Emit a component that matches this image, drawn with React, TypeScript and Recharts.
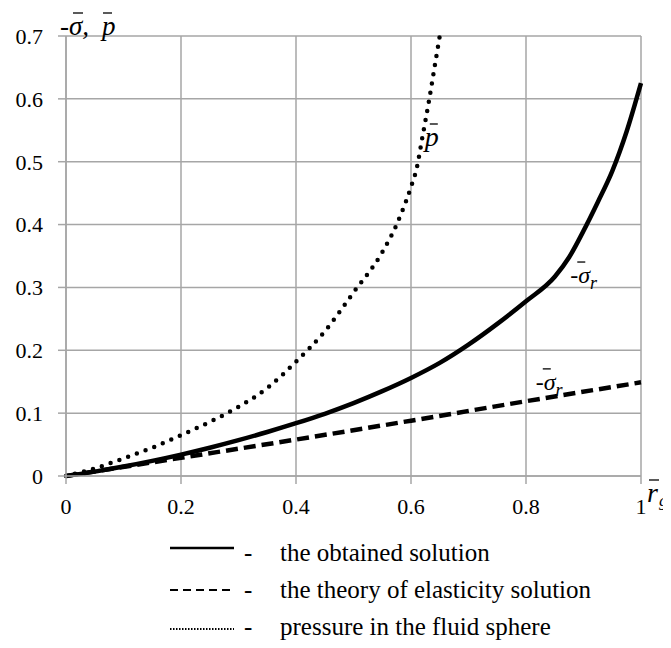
import React from "react"
import { LineChart, Line, XAxis, YAxis, CartesianGrid, ReferenceDot } from "recharts"

const SERIF = "'Liberation Serif', Tinos, 'Times New Roman', Times, 'DejaVu Serif', serif"
const GRID = "#a6a6a6"

const xTicks = [0, 0.2, 0.4, 0.6, 0.8, 1]
const yTicks = [0, 0.1, 0.2, 0.3, 0.4, 0.5, 0.6, 0.7]

// the obtained solution (solid)
const obtainedX = [0, 0.05, 0.1, 0.15, 0.2, 0.25, 0.3, 0.35, 0.4, 0.45, 0.5, 0.55, 0.6, 0.65, 0.7, 0.75, 0.8, 0.85, 0.875, 0.9, 0.925, 0.95, 0.975, 1.0]
const obtainedY = [0, 0.007, 0.015, 0.024, 0.034, 0.045, 0.057, 0.07, 0.084, 0.099, 0.116, 0.135, 0.156, 0.18, 0.209, 0.242, 0.278, 0.317, 0.348, 0.39, 0.436, 0.485, 0.548, 0.625]

// theory of elasticity solution (dashed)
const elasticityX = [0, 0.2, 0.4, 0.6, 0.8, 1.0]
const elasticityY = [0, 0.029, 0.058, 0.088, 0.119, 0.149]

// pressure in the fluid sphere (dotted)
const pressureX = [0, 0.05, 0.1, 0.15, 0.2, 0.25, 0.3, 0.35, 0.4, 0.45, 0.5, 0.55, 0.575, 0.6, 0.61, 0.62, 0.63, 0.64, 0.65]
const pressureY = [0, 0.012, 0.028, 0.045, 0.065, 0.086, 0.11, 0.14, 0.182, 0.23, 0.292, 0.356, 0.4, 0.46, 0.49, 0.54, 0.59, 0.645, 0.7]

const legendLabels = ["the obtained solution", "the theory of elasticity solution", "pressure in the fluid sphere"]

const toRows = (xs: number[], ys: number[]) => xs.map((x, i) => ({ x, y: ys[i] }))

const obtainedData = toRows(obtainedX, obtainedY)
const elasticityData = toRows(elasticityX, elasticityY)
const pressureData = toRows(pressureX, pressureY)

function Bar({ x1, x2, y }: { x1: number; x2: number; y: number }) {
  return <line x1={x1} x2={x2} y1={y} y2={y} stroke="#000" strokeWidth={1.3} />
}

// -σ̄, p̄ at the top of the y axis
function AxisTitle(props: any) {
  const { cx, cy } = props
  return (
    <g fontFamily={SERIF} fontStyle="italic" fontSize={27} fill="#000">
      <text x={cx - 6} y={cy - 1}>-σ,</text>
      <text x={cx + 36} y={cy - 1}>p</text>
      <Bar x1={cx + 7} x2={cx + 17} y={cy - 23} />
      <Bar x1={cx + 37} x2={cx + 46} y={cy - 23} />
    </g>
  )
}

// r̄g at the end of the x axis
function XTitle(props: any) {
  const { cx, cy } = props
  return (
    <g fontFamily={SERIF} fontStyle="italic" fill="#000">
      <text x={cx + 6} y={cy + 26} fontSize={28}>r</text>
      <text x={cx + 18} y={cy + 30} fontSize={17}>g</text>
      <Bar x1={cx + 8} x2={cx + 18} y={cy + 4} />
    </g>
  )
}

function PLabel(props: any) {
  const { cx, cy } = props
  return (
    <g fontFamily={SERIF} fontStyle="italic" fill="#000">
      <text x={cx} y={cy} fontSize={28}>p</text>
      <Bar x1={cx + 5} x2={cx + 13} y={cy - 22} />
    </g>
  )
}

function SigmaLabel(props: any) {
  const { cx, cy } = props
  return (
    <g fontFamily={SERIF} fontStyle="italic" fill="#000">
      <text x={cx} y={cy} fontSize={24}>
        -σ<tspan dy={6} fontSize={18}>r</tspan>
      </text>
      <Bar x1={cx + 7} x2={cx + 15} y={cy - 21} />
    </g>
  )
}

function LegendSample({ kind }: { kind: number }) {
  if (kind === 0) return <line x1={0} x2={64} y1={14} y2={14} stroke="#000" strokeWidth={2.5} />
  if (kind === 1) return <line x1={0} x2={64} y1={19} y2={19} stroke="#000" strokeWidth={2} strokeDasharray="8 5" />
  return <line x1={0} x2={64} y1={21} y2={21} stroke="#000" strokeWidth={2} strokeDasharray="1.5 1.5" />
}

export default function App() {
  return (
    <div style={{ width: 663, fontFamily: SERIF }}>
      <LineChart width={663} height={526} margin={{ top: 28, right: 30, bottom: 8, left: 0 }}>
        <CartesianGrid stroke={GRID} strokeWidth={1.5} />
        <XAxis
          type="number"
          dataKey="x"
          domain={[0, 1]}
          ticks={xTicks}
          tickFormatter={(v: number) => String(v)}
          stroke={GRID}
          strokeWidth={1.5}
          tickSize={8}
          tickMargin={14}
          height={50}
          tick={{ fill: "#000", fontSize: 22, fontFamily: SERIF }}
        />
        <YAxis
          type="number"
          dataKey="y"
          domain={[0, 0.7]}
          ticks={yTicks}
          tickFormatter={(v: number) => String(v)}
          stroke={GRID}
          strokeWidth={1.5}
          tickSize={8}
          tickMargin={15}
          width={58}
          tick={{ fill: "#000", fontSize: 22, fontFamily: SERIF }}
        />
        <Line
          data={pressureData}
          dataKey="y"
          type="monotone"
          stroke="#000"
          strokeWidth={4.5}
          strokeDasharray="0 9.3"
          strokeLinecap="round"
          dot={false}
          isAnimationActive={false}
        />
        <Line
          data={elasticityData}
          dataKey="y"
          type="monotone"
          stroke="#000"
          strokeWidth={4.5}
          strokeDasharray="12 6"
          dot={false}
          isAnimationActive={false}
        />
        <Line
          data={obtainedData}
          dataKey="y"
          type="monotone"
          stroke="#000"
          strokeWidth={4.5}
          dot={false}
          isAnimationActive={false}
        />
        <ReferenceDot x={0} y={0.7} ifOverflow="visible" shape={AxisTitle} />
        <ReferenceDot x={1} y={0} ifOverflow="visible" shape={XTitle} />
        <ReferenceDot x={0.624} y={0.525} ifOverflow="visible" shape={PLabel} />
        <ReferenceDot x={0.877} y={0.307} ifOverflow="visible" shape={SigmaLabel} />
        <ReferenceDot x={0.817} y={0.137} ifOverflow="visible" shape={SigmaLabel} />
      </LineChart>
      <div style={{ position: "relative", height: 111, fontSize: 25 }}>
        {legendLabels.map((label, i) => (
          <div key={label} style={{ position: "absolute", top: i * 37, left: 0, height: 37, lineHeight: "37px", width: 655 }}>
            <svg width={64} height={37} style={{ position: "absolute", left: 162, top: 0 }}>
              <LegendSample kind={i} />
            </svg>
            <span style={{ position: "absolute", left: 236 }}>-</span>
            <span style={{ position: "absolute", left: 272, whiteSpace: "nowrap" }}>{label}</span>
          </div>
        ))}
      </div>
    </div>
  )
}
